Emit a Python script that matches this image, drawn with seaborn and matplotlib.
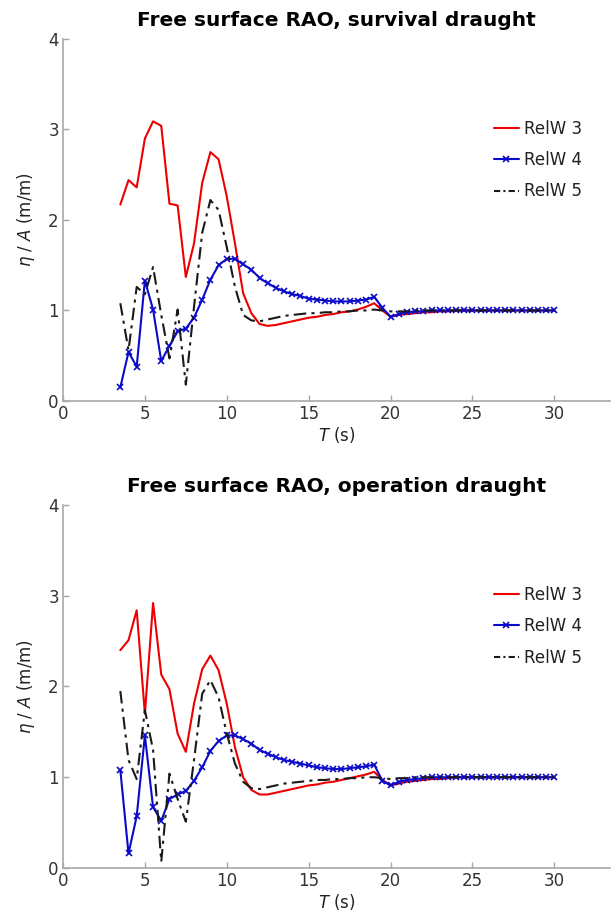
import matplotlib
matplotlib.use("Agg")
import matplotlib.pyplot as plt
import seaborn as sns
import pandas as pd

# ---------------- data ----------------
T = [3.5, 4, 4.5, 5, 5.5, 6, 6.5, 7, 7.5, 8, 8.5, 9, 9.5, 10, 10.5, 11, 11.5, 12,
     12.5, 13, 13.5, 14, 14.5, 15, 15.5, 16, 16.5, 17, 17.5, 18, 18.5, 19, 19.5, 20,
     20.5, 21, 21.5, 22, 22.5, 23, 23.5, 24, 24.5, 25, 25.5, 26, 26.5, 27, 27.5, 28,
     28.5, 29, 29.5, 30]

surv_relw3 = [2.17, 2.44, 2.36, 2.90, 3.09, 3.04, 2.18, 2.16, 1.37, 1.74, 2.41, 2.75, 2.67, 2.26,
              1.74, 1.19, 0.97, 0.85, 0.83, 0.84, 0.86, 0.88, 0.90, 0.92, 0.93, 0.95, 0.96, 0.98,
              0.99, 1.01, 1.04, 1.08, 1.00, 0.93, 0.95, 0.96, 0.97, 0.98, 0.98, 0.99, 0.99,
              1.0, 1.0, 1.0, 1.0, 1.0, 1.0, 1.0, 1.0, 1.0, 1.0, 1.0, 1.0, 1.0]
surv_relw4 = [0.15, 0.54, 0.38, 1.33, 1.01, 0.44, 0.61, 0.77, 0.80, 0.92, 1.12, 1.34, 1.50, 1.57,
              1.57, 1.51, 1.45, 1.36, 1.30, 1.25, 1.21, 1.18, 1.16, 1.13, 1.12, 1.11, 1.10, 1.10,
              1.10, 1.11, 1.12, 1.15, 1.03, 0.93, 0.96, 0.98, 0.99, 0.99, 1.0, 1.0, 1.0,
              1.0, 1.0, 1.0, 1.0, 1.0, 1.0, 1.0, 1.0, 1.0, 1.0, 1.0, 1.0, 1.0]
surv_relw5 = [1.08, 0.56, 1.26, 1.18, 1.48, 0.95, 0.47, 1.01, 0.18, 1.04, 1.86, 2.22, 2.11, 1.70,
              1.26, 0.95, 0.89, 0.88, 0.90, 0.92, 0.94, 0.95, 0.96, 0.97, 0.97, 0.98, 0.98, 0.99,
              0.99, 1.0, 1.0, 1.01, 1.0, 0.99, 0.99, 0.99, 1.0, 1.0, 1.0, 1.0, 1.0,
              1.0, 1.0, 1.0, 1.0, 1.0, 1.0, 1.0, 1.0, 1.0, 1.0, 1.0, 1.0, 1.0]

oper_relw3 = [2.40, 2.51, 2.84, 1.70, 2.92, 2.13, 1.97, 1.48, 1.28, 1.81, 2.19, 2.34, 2.18, 1.81,
              1.33, 1.00, 0.86, 0.81, 0.81, 0.83, 0.85, 0.87, 0.89, 0.91, 0.92, 0.94, 0.95, 0.97,
              0.99, 1.01, 1.03, 1.06, 0.97, 0.91, 0.93, 0.95, 0.96, 0.97, 0.98, 0.98, 0.99,
              1.0, 1.0, 1.0, 1.0, 1.0, 1.0, 1.0, 1.0, 1.0, 1.0, 1.0, 1.0, 1.0]
oper_relw4 = [1.08, 0.16, 0.57, 1.46, 0.67, 0.52, 0.76, 0.81, 0.85, 0.96, 1.11, 1.29, 1.40, 1.46,
              1.46, 1.42, 1.37, 1.30, 1.26, 1.22, 1.19, 1.17, 1.15, 1.13, 1.11, 1.10, 1.09, 1.09,
              1.10, 1.11, 1.12, 1.14, 0.96, 0.91, 0.95, 0.97, 0.98, 0.99, 1.0, 1.0, 1.0,
              1.0, 1.0, 1.0, 1.0, 1.0, 1.0, 1.0, 1.0, 1.0, 1.0, 1.0, 1.0, 1.0]
oper_relw5 = [1.95, 1.19, 0.98, 1.74, 1.30, 0.07, 1.04, 0.76, 0.51, 1.19, 1.92, 2.07, 1.88, 1.48,
              1.15, 0.95, 0.88, 0.87, 0.89, 0.91, 0.93, 0.94, 0.95, 0.96, 0.97, 0.97, 0.98, 0.98,
              0.99, 0.99, 1.0, 1.0, 0.99, 0.98, 0.99, 0.99, 1.0, 1.0, 1.0, 1.0, 1.0,
              1.0, 1.0, 1.0, 1.0, 1.0, 1.0, 1.0, 1.0, 1.0, 1.0, 1.0, 1.0, 1.0]

series_labels = ["RelW 3", "RelW 4", "RelW 5"]
titles = ["Free surface RAO, survival draught", "Free surface RAO, operation draught"]
x_ticks = [0, 5, 10, 15, 20, 25, 30]
y_ticks = [0, 1, 2, 3, 4]

# ---------------- style ----------------
sns.set_theme(style="ticks")
plt.rcParams["font.family"] = ["DejaVu Sans"]
plt.rcParams["mathtext.fontset"] = "dejavusans"

fig = plt.figure(figsize=(6.11, 9.19), dpi=100)
ax_top = fig.add_axes([0.1031, 0.5637, 0.8953, 0.3939])
ax_bot = fig.add_axes([0.1031, 0.0555, 0.8953, 0.3950])

styles = [
    dict(color="#ee0000", linestyle="-", marker=None),
    dict(color="#0a0ac8", linestyle="-", marker="x"),
    dict(color="#1a1a1a", linestyle="-.", marker=None),
]

datasets = [(surv_relw3, surv_relw4, surv_relw5), (oper_relw3, oper_relw4, oper_relw5)]
grey = "#a8a8a8"

for ax, title, data in zip([ax_top, ax_bot], titles, datasets):
    for vals, lab, st in zip(data, series_labels, styles):
        df = pd.DataFrame({"T": T, "v": vals})
        kw = dict(linewidth=1.5, color=st["color"], linestyle=st["linestyle"], label=lab)
        if st["marker"]:
            kw.update(marker="x", markersize=4.5, markeredgewidth=1.2,
                      markeredgecolor=st["color"])
        line_ax = sns.lineplot(data=df, x="T", y="v", ax=ax, **kw)
        if st["linestyle"] == "-.":
            line_ax.lines[-1].set_dashes([6, 2.5, 1.5, 2.5])
    ax.set_xlim(0, 33.4)
    ax.set_ylim(0, 4)
    ax.set_xticks(x_ticks)
    ax.set_yticks(y_ticks)
    ax.set_xticklabels([str(t) for t in x_ticks])
    ax.set_yticklabels([str(t) for t in y_ticks])
    for s in ["top", "right"]:
        ax.spines[s].set_visible(False)
    for s in ["left", "bottom"]:
        ax.spines[s].set_color(grey)
        ax.spines[s].set_linewidth(1.2)
    ax.tick_params(direction="in", length=4, width=1, color=grey,
                   labelsize=12, labelcolor="#333333", pad=3)
    ax.set_title(title, fontsize=14.5, fontweight="bold", pad=9, color="black")
    ax.set_xlabel(r"$T$ (s)", fontsize=12, labelpad=1, color="#222222")
    ax.set_ylabel(r"$\eta$ / $A$ (m/m)", fontsize=12, labelpad=8, color="#222222")
    leg = ax.legend(loc="upper left", bbox_to_anchor=(0.772, 0.80), frameon=False,
                    fontsize=12, handlelength=1.5, handletextpad=0.3,
                    labelspacing=0.8, borderpad=0)
    leg.get_lines()[2].set_dashes([3, 1.5, 1, 1.5])
    for txt in leg.get_texts():
        txt.set_color("#222222")

fig.savefig("out.png", dpi=100)
